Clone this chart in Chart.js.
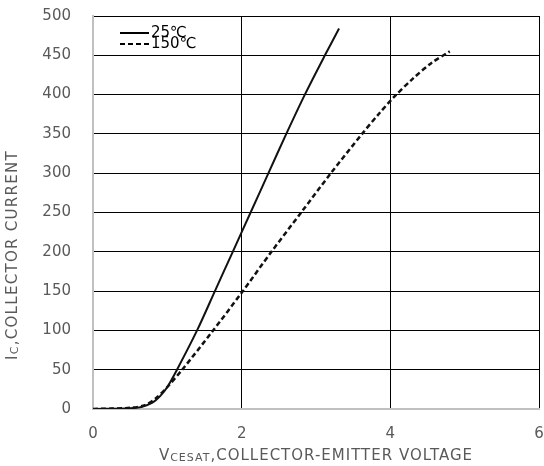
<!DOCTYPE html>
<html>
<head>
<meta charset="utf-8">
<script src="https://cdn.jsdelivr.net/npm/chart.js@4.4.1/dist/chart.umd.min.js"></script>
<style>
html, body { margin: 0; padding: 0; background: #fff; }
#wrap { width: 544px; height: 466px; position: relative; }
</style>
</head>
<body>
<div id="wrap"><canvas id="icChart"></canvas></div>
<script>
// Ic vs Vce(sat)
const voltage25 = [0, 0.5, 0.65, 0.8, 0.9, 1.0, 1.13, 1.4, 1.64, 1.88, 2.12, 2.36, 2.6, 2.85, 3.12, 3.31];
const current25 = [0, 1, 2.5, 8, 16, 28, 50, 100, 150, 200, 250, 300, 350, 400, 450, 484];

const voltage150 = [0, 0.5, 0.7, 0.85, 1.0, 1.2, 1.6, 2.0, 2.4, 2.8, 3.2, 3.62, 3.85, 4.05, 4.3, 4.55, 4.8];
const current150 = [0, 1.5, 5, 14, 28, 50, 98, 148, 200, 250, 300, 350, 376, 397, 420, 440, 455];

const seriesLabels = ["25\u2103", "150\u2103"];

const xTitleRuns = [["V", 1], ["CESAT", 0.72], [",COLLECTOR-EMITTER VOLTAGE", 1]];
const yTitleRuns = [["I", 1], ["C", 0.72], [",COLLECTOR CURRENT", 1]];

const FONT = "'DejaVu Sans', sans-serif";
const TEXT_GREY = "#595959";

function toPoints(xs, ys) {
    return xs.map((x, i) => ({ x: x, y: ys[i] }));
}

function runsWidth(ctx, runs, size) {
    let w = 0;
    runs.forEach(r => {
        ctx.font = Math.round(size * r[1]) + "px " + FONT;
        w += ctx.measureText(r[0]).width;
    });
    return w;
}

function drawRuns(ctx, runs, size, cx, baseline) {
    let x = cx - runsWidth(ctx, runs, size) / 2;
    runs.forEach(r => {
        ctx.font = Math.round(size * r[1]) + "px " + FONT;
        ctx.fillText(r[0], x, baseline + (r[1] < 1 ? 1 : 0));
        x += ctx.measureText(r[0]).width;
    });
}

/*-----------------------------------
  titles + in-plot legend
-----------------------------------*/
const decorations = {
    id: "decorations",
    afterDraw(chart) {
        const ctx = chart.ctx;
        const area = chart.chartArea;
        ctx.save();
        ctx.fillStyle = TEXT_GREY;
        ctx.textAlign = "left";
        ctx.textBaseline = "alphabetic";
        ctx.letterSpacing = "1px";

        drawRuns(ctx, xTitleRuns, 15, (area.left + area.right) / 2, 460);

        ctx.save();
        ctx.letterSpacing = "1.3px";
        ctx.translate(17, 255);
        ctx.rotate(-Math.PI / 2);
        drawRuns(ctx, yTitleRuns, 15, 0, 0);
        ctx.restore();
        ctx.letterSpacing = "0px";

        // legend
        const lx = area.left + 27;
        const rows = [area.top + 17, area.top + 28];
        ctx.strokeStyle = "#000";
        ctx.lineWidth = 2;
        chart.data.datasets.forEach((ds, i) => {
            ctx.setLineDash(ds.borderDash || []);
            ctx.beginPath();
            ctx.moveTo(lx, rows[i]);
            ctx.lineTo(lx + 29, rows[i]);
            ctx.stroke();
            ctx.fillStyle = "#000";
            ctx.font = "15px " + FONT;
            ctx.textBaseline = "middle";
            ctx.fillText(ds.label, lx + 31, rows[i]);
        });
        ctx.restore();
    }
};

const chart = new Chart(document.getElementById("icChart"), {
    type: "line",
    data: {
        datasets: [
            {
                label: seriesLabels[0],
                data: toPoints(voltage25, current25),
                borderColor: "#111",
                borderWidth: 2,
                pointRadius: 0,
                tension: 0.3
            },
            {
                label: seriesLabels[1],
                data: toPoints(voltage150, current150),
                borderColor: "#111",
                borderWidth: 2.5,
                borderDash: [5, 3],
                pointRadius: 0,
                tension: 0.3
            }
        ]
    },
    options: {
        responsive: true,
        maintainAspectRatio: false,
        animation: false,
        devicePixelRatio: 1,
        layout: { padding: { top: 16, right: 5, left: 0, bottom: 0 } },
        plugins: {
            legend: { display: false },
            tooltip: { enabled: false }
        },
        scales: {
            x: {
                type: "linear",
                min: 0,
                max: 6,
                ticks: {
                    stepSize: 2,
                    color: TEXT_GREY,
                    font: { family: FONT, size: 15 },
                    padding: 16,
                    maxRotation: 0
                },
                grid: {
                    drawTicks: false,
                    color: c => c.tick && c.tick.value === 0 ? "rgba(0,0,0,0)" : "#000"
                },
                border: { color: "#c0c0c0", width: 2 },
                afterFit(s) {
                    s.height = 57;
                    s.paddingLeft = 0;
                    s.paddingRight = 0;
                }
            },
            y: {
                min: 0,
                max: 500,
                ticks: {
                    stepSize: 50,
                    color: TEXT_GREY,
                    font: { family: FONT, size: 15 },
                    padding: 22
                },
                grid: {
                    drawTicks: false,
                    color: c => c.tick && c.tick.value === 0 ? "rgba(0,0,0,0)" : "#000"
                },
                border: { color: "#c0c0c0", width: 2 },
                afterFit(s) {
                    s.width = 93;
                    s.paddingTop = 0;
                    s.paddingBottom = 0;
                }
            }
        }
    },
    plugins: [decorations]
});
</script>
</body>
</html>
